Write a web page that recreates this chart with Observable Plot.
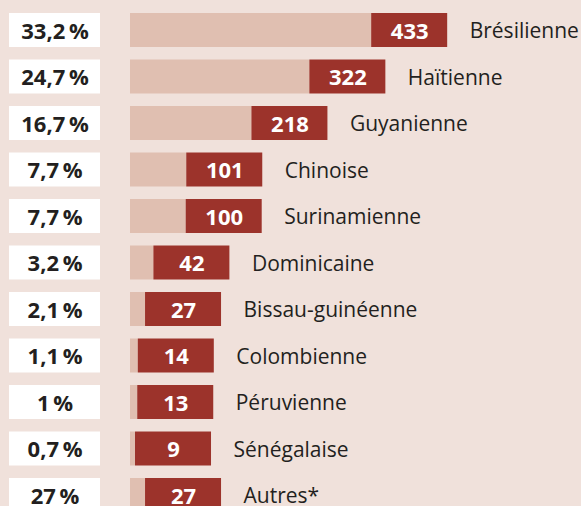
<!DOCTYPE html>
<html><head><meta charset="utf-8">
<script src="https://cdn.jsdelivr.net/npm/d3@7"></script>
<script src="https://cdn.jsdelivr.net/npm/@observablehq/plot@0.6"></script>
<style>
html,body{margin:0;padding:0;background:#f0e1db;overflow:hidden;}
#chart svg{display:block;}
</style></head><body><div id="chart"></div>
<script>
const nationalities = ["Brésilienne","Haïtienne","Guyanienne","Chinoise","Surinamienne","Dominicaine","Bissau-guinéenne","Colombienne","Péruvienne","Sénégalaise","Autres*"];
const counts = [433,322,218,101,100,42,27,14,13,9,27];
const shares = ["33,2\u2009%","24,7\u2009%","16,7\u2009%","7,7\u2009%","7,7\u2009%","3,2\u2009%","2,1\u2009%","1,1\u2009%","1\u2009%","0,7\u2009%","27\u2009%"];

const rows = nationalities.map((n, i) => ({name: n, value: counts[i], share: shares[i]}));

// layout constants
const pxPerUnit = 0.557;            // horizontal scale of the light bars
const left = 130, W = 581;
const toData = p => (p - left) / pxPerUnit;
const boxW = 76;                     // fixed width of dark value box
const FONT = "Open Sans";

const chart = Plot.plot({
  width: W, height: 506,
  marginLeft: left, marginRight: 0, marginTop: 0, marginBottom: 0,
  x: {domain: [0, toData(W)], axis: null},
  y: {domain: nationalities, range: [13, 512], paddingInner: 0.269, paddingOuter: 0, round: false, axis: null},
  style: {background: "transparent", fontFamily: FONT, overflow: "hidden"},
  marks: [
    // white share boxes
    Plot.barX(rows, {y: "name", x1: toData(9), x2: toData(100), fill: "#ffffff"}),
    Plot.text(rows, {y: "name", x: toData(54.5), text: "share", fontSize: 22, fontWeight: "bold", fill: "#231f20", dy: 1}),
    // light bars
    Plot.barX(rows, {y: "name", x1: 0, x2: "value", fill: "#e0bfb1"}),
    // dark value boxes
    Plot.barX(rows, {y: "name", x1: "value", x2: d => d.value + boxW / pxPerUnit, fill: "#9c332b"}),
    Plot.text(rows, {y: "name", x: "value", dx: boxW / 2, text: d => String(d.value), fontSize: 22, fontWeight: "bold", fill: "#ffffff", dy: 1}),
    // nationality labels
    Plot.text(rows, {y: "name", x: "value", dx: boxW + 22, text: "name", textAnchor: "start", fontSize: 21, fill: "#231f20", dy: 1})
  ]
});
document.getElementById("chart").appendChild(chart);
</script></body></html>
